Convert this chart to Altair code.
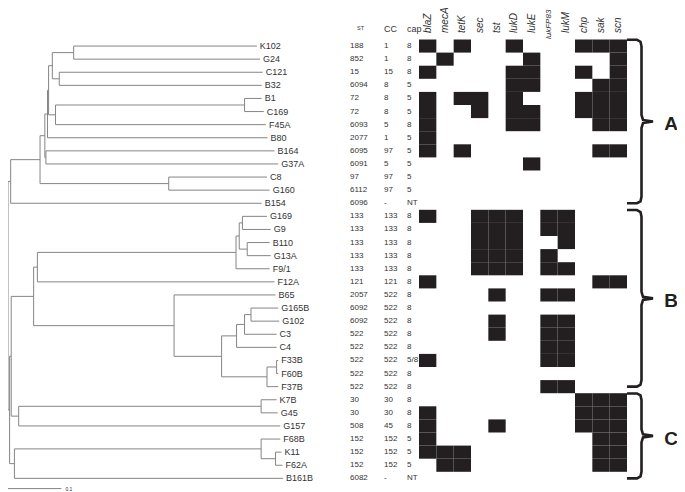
import altair as alt
import pandas as pd

# ---------------- data ----------------
strains = ["K102", "G24", "C121", "B32", "B1", "C169", "F45A", "B80", "B164", "G37A", "C8", "G160", "B154",
           "G169", "G9", "B110", "G13A", "F9/1", "F12A", "B65", "G165B", "G102", "C3", "C4", "F33B", "F60B",
           "F37B", "K7B", "G45", "G157", "F68B", "K11", "F62A", "B161B"]
st = ["188", "852", "15", "6094", "72", "72", "6093", "2077", "6095", "6091", "97", "6112", "6096",
      "133", "133", "133", "133", "133", "121", "2057", "6092", "6092", "522", "522", "522", "522", "522",
      "30", "30", "508", "152", "152", "152", "6082"]
cc = ["1", "1", "15", "8", "8", "8", "5", "1", "97", "5", "97", "97", "-",
      "133", "133", "133", "133", "133", "121", "522", "522", "522", "522", "522", "522", "522", "522",
      "30", "30", "45", "152", "152", "152", "-"]
cap = ["8", "8", "8", "5", "5", "5", "8", "5", "5", "5", "5", "5", "NT",
       "8", "8", "8", "8", "8", "8", "8", "8", "8", "8", "8", "5/8", "8", "8",
       "8", "8", "8", "5", "5", "5", "NT"]
genes = ["blaZ", "mecA", "tetK", "sec", "tst", "lukD", "lukE", "lukFP83", "lukM", "chp", "sak", "scn"]
present = [
    ["blaZ", "tetK", "lukD", "chp", "sak", "scn"],
    ["mecA", "lukE", "scn"],
    ["blaZ", "lukD", "lukE", "chp", "scn"],
    ["lukD", "lukE", "sak", "scn"],
    ["blaZ", "tetK", "sec", "lukD", "chp", "sak", "scn"],
    ["blaZ", "sec", "lukD", "lukE", "chp", "sak", "scn"],
    ["blaZ", "lukD", "lukE", "sak", "scn"],
    ["blaZ"],
    ["blaZ", "tetK", "sak", "scn"],
    ["lukE"],
    [],
    [],
    [],
    ["blaZ", "sec", "tst", "lukD", "lukFP83", "lukM"],
    ["sec", "tst", "lukD", "lukFP83", "lukM"],
    ["sec", "tst", "lukD", "lukM"],
    ["sec", "tst", "lukD", "lukFP83"],
    ["sec", "tst", "lukD", "lukFP83", "lukM"],
    ["blaZ", "sak", "scn"],
    ["tst", "lukFP83", "lukM"],
    [],
    ["tst", "lukFP83", "lukM"],
    ["tst", "lukFP83", "lukM"],
    ["lukFP83", "lukM"],
    ["blaZ", "lukFP83", "lukM"],
    [],
    ["lukFP83", "lukM"],
    ["chp", "sak", "scn"],
    ["blaZ", "chp", "sak", "scn"],
    ["blaZ", "tst", "chp", "sak", "scn"],
    ["blaZ", "sak", "scn"],
    ["blaZ", "mecA", "tetK", "sak", "scn"],
    ["mecA", "tetK", "sak", "scn"],
    [],
]
# distance of each tip from the root
tip_depth = [0.466, 0.472, 0.477, 0.475, 0.475, 0.479, 0.483, 0.486, 0.499, 0.506, 0.485, 0.490, 0.475,
             0.485, 0.492, 0.490, 0.492, 0.490, 0.499, 0.501, 0.506, 0.508, 0.503, 0.503, 0.506, 0.506,
             0.506, 0.503, 0.505, 0.510, 0.510, 0.512, 0.514, 0.515]
# internal nodes: (name, child a, child b, depth)
nodes = [
    ("P1", "K102", "G24", 0.123),
    ("P2", "C121", "B32", 0.096),
    ("P3", "P1", "P2", 0.083),
    ("P4", "B1", "C169", 0.443),
    ("P5", "P4", "F45A", 0.089),
    ("P6", "P3", "P5", 0.076),
    ("P7", "P6", "B80", 0.074),
    ("P8", "B164", "G37A", 0.071),
    ("P9", "P7", "P8", 0.069),
    ("P10a", "C8", "G160", 0.301),
    ("P10", "P9", "P10a", 0.060),
    ("P11", "P10", "B154", 0.005),
    ("Q1", "G169", "G9", 0.439),
    ("Q2", "B110", "G13A", 0.448),
    ("Q3", "Q1", "Q2", 0.433),
    ("Q4", "Q3", "F9/1", 0.427),
    ("Q5", "Q4", "F12A", 0.055),
    ("T1", "G165B", "G102", 0.455),
    ("T2", "T1", "C3", 0.443),
    ("T", "T2", "C4", 0.428),
    ("U1", "F33B", "F60B", 0.503),
    ("U", "U1", "F37B", 0.485),
    ("S", "T", "U", 0.400),
    ("R1", "B65", "S", 0.311),
    ("Q6", "Q5", "R1", 0.048),
    ("V1", "K7B", "G45", 0.474),
    ("V2", "V1", "G157", 0.020),
    ("W1", "K11", "F62A", 0.501),
    ("W2", "F68B", "W1", 0.474),
    ("W3", "W2", "B161B", 0.012),
    ("Z", "Q6", "V2", 0.006),
    ("X1", "Z", "W3", 0.003),
    ("ROOT", "P11", "X1", 0.0),
]
groups = ["A", "B", "C"]
group_first = [0, 13, 27]
group_last = [12, 26, 33]
scale_bar_len = 0.1

# ---------------- layout ----------------
W, H = 669, 484
ROW_TOP, ROW_H = 31.5, 13.1
n = len(strains)
ys = alt.Scale(domain=[-0.5, n - 0.5], range=[ROW_TOP, ROW_TOP + ROW_H * n], nice=False, zero=False)
xs_tree = alt.Scale(domain=[0, 0.5], range=[0, 267], nice=False, zero=False)
xs_gene = alt.Scale(domain=genes, range=[411, 619], paddingInner=0, paddingOuter=0)
xs_px = alt.Scale(domain=[0, W], range=[0, W], nice=False, zero=False)
FONT = "Liberation Sans"
LINE = "#858585"
INK = "#231f20"
TXT = "#333333"

# ---------------- tree geometry ----------------
ypos = {s: i for i, s in enumerate(strains)}
xpos = {s: d for s, d in zip(strains, tip_depth)}
segs = []
for name, a, b, d in nodes:
    ypos[name] = (ypos[a] + ypos[b]) / 2
    xpos[name] = d
    segs.append(dict(x=d, x2=d, y=ypos[a], y2=ypos[b]))
    for c in (a, b):
        segs.append(dict(x=d, x2=xpos[c], y=ypos[c], y2=ypos[c]))
seg_df = pd.DataFrame(segs)

tip_df = pd.DataFrame({"strain": strains, "row": list(range(n)), "depth": tip_depth,
                       "st": st, "cc": cc, "cap": cap})

heat_df = pd.DataFrame([{"row": i, "gene": g} for i, gl in enumerate(present) for g in gl])
heat_df["y0"] = heat_df["row"] - 0.5
heat_df["y1"] = heat_df["row"] + 0.5

long_gene = "lukFP83"
gene_df = pd.DataFrame({"gene": [g for g in genes if g != long_gene]})
gene_df_long = pd.DataFrame({"gene": [long_gene]})

# braces
brace_pts = []
for g, f, l in zip(groups, group_first, group_last):
    top, bot = f - 0.48, l + 0.0
    mid = (top + bot) / 2
    shape = [(619, top), (629, top), (632.5, top + 0.15), (633.5, top + 0.5),
             (633.5, mid - 0.5), (635, mid - 0.12), (645, mid), (635, mid + 0.12), (633.5, mid + 0.5),
             (633.5, bot - 0.5), (632.5, bot - 0.15), (629, bot), (619, bot)]
    for k, (bx, by) in enumerate(shape):
        brace_pts.append(dict(group=g, o=k, bx=bx, by=by))
brace_df = pd.DataFrame(brace_pts)
letter_df = pd.DataFrame({"group": groups,
                          "mid": [(f - 0.48 + l) / 2 + 0.2 for f, l in zip(group_first, group_last)]})

# ---------------- layers ----------------
tree = alt.Chart(seg_df).mark_rule(color=LINE, strokeWidth=1).encode(
    x=alt.X("x:Q", scale=xs_tree, axis=None), x2="x2:Q",
    y=alt.Y("y:Q", scale=ys, axis=None), y2="y2:Q")

labels = alt.Chart(tip_df).mark_text(align="left", baseline="middle", dx=3, fontSize=9,
                                     font=FONT, color=TXT).encode(
    x=alt.X("depth:Q", scale=xs_tree, axis=None),
    y=alt.Y("row:Q", scale=ys, axis=None), text="strain:N")

table_layers = []
for field, xp in [("st", 342), ("cc", 376), ("cap", 399)]:
    table_layers.append(alt.Chart(tip_df).mark_text(align="left", baseline="middle", fontSize=8,
                                                    font=FONT, color=TXT).encode(
        x=alt.value(xp), y=alt.Y("row:Q", scale=ys, axis=None), text=f"{field}:N"))

head_df = pd.DataFrame({"h": ["ST", "CC", "cap"], "row": [-1.35, -1.3, -1.3]})
heads = []
for h, xp, fs in [("ST", 349, 5.5), ("CC", 376, 9), ("cap", 399, 9)]:
    heads.append(alt.Chart(head_df[head_df.h == h]).mark_text(align="left", baseline="middle",
                                                             fontSize=fs, font=FONT, color=TXT).encode(
        x=alt.value(xp), y=alt.Y("row:Q", scale=ys, axis=None), text="h:N"))

heat = alt.Chart(heat_df).mark_rect(color=INK).encode(
    x=alt.X("gene:N", scale=xs_gene, axis=None),
    y=alt.Y("y0:Q", scale=ys, axis=None), y2="y1:Q")

gene_heads = alt.Chart(gene_df).mark_text(angle=270, align="left", baseline="middle", fontSize=10,
                                          fontStyle="italic", font=FONT, color=TXT).encode(
    x=alt.X("gene:N", scale=xs_gene, axis=None), y=alt.value(25), text="gene:N")
gene_heads_long = alt.Chart(gene_df_long).mark_text(angle=270, align="left", baseline="middle",
                                                    fontSize=8, fontStyle="italic", font=FONT,
                                                    color=TXT).encode(
    x=alt.X("gene:N", scale=xs_gene, axis=None), y=alt.value(31), text="gene:N")

braces = alt.Chart(brace_df).mark_line(color=INK, strokeWidth=2.6).encode(
    x=alt.X("bx:Q", scale=xs_px, axis=None), y=alt.Y("by:Q", scale=ys, axis=None),
    detail="group:N", order="o:Q")

letters = alt.Chart(letter_df).mark_text(align="center", baseline="middle", fontSize=19,
                                         fontWeight="bold", font=FONT, color=INK).encode(
    x=alt.value(663), y=alt.Y("mid:Q", scale=ys, axis=None), text="group:N")

bar_df = pd.DataFrame({"x": [0.0], "x2": [scale_bar_len], "row": [33.78], "t": [str(scale_bar_len)]})
sbar = alt.Chart(bar_df).mark_rule(color=LINE, strokeWidth=1).encode(
    x=alt.X("x:Q", scale=xs_tree, axis=None), x2="x2:Q", y=alt.Y("row:Q", scale=ys, axis=None))
sbar_t = alt.Chart(bar_df).mark_text(align="left", baseline="middle", dx=4, fontSize=5,
                                     font=FONT, color=TXT).encode(
    x=alt.X("x2:Q", scale=xs_tree, axis=None), y=alt.Y("row:Q", scale=ys, axis=None), text="t:N")

chart = alt.layer(tree, labels, *table_layers, *heads, heat, gene_heads, gene_heads_long, braces, letters,
                  sbar, sbar_t).resolve_scale(
    x="independent").properties(
    width=W, height=H, autosize=alt.AutoSizeParams(type="none"), padding=0,
    background="white").configure_view(stroke=None)

chart.save("out.html", embed_options={"renderer": "svg", "actions": False})
